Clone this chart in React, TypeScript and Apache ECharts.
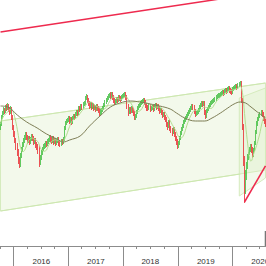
import React, { useEffect, useRef } from "react";
import * as echarts from "echarts";

// first weekly bar starts on this Monday
const startMonday = "2015-09-28";
const yearLabels = ["2016", "2017", "2018", "2019", "2020"];

// weekly candles: [open, close, low, high]
const ohlc: number[][] = [
  [3190,3220,3160,3240],[3220,3290,3200,3310],[3290,3330,3270,3350],[3330,3360,3310,3390],[3360,3350,3320,3380],
  [3350,3390,3330,3410],[3390,3380,3350,3420],[3380,3400,3360,3430],[3400,3370,3340,3420],[3370,3350,3310,3390],
  [3350,3380,3320,3400],[3380,3290,3260,3390],[3290,3190,3160,3310],[3190,3130,3090,3210],[3130,3060,3030,3150],
  [3060,3000,2960,3080],[3000,2940,2900,3030],[2940,2860,2820,2970],[2860,2810,2780,2890],[2810,2910,2790,2930],
  [2910,2960,2880,2990],[2960,3020,2940,3040],[3020,3060,2990,3080],[3060,3090,3030,3110],[3090,3120,3060,3140],
  [3120,3090,3060,3140],[3090,3050,3020,3110],[3050,3080,3030,3100],[3080,3040,3010,3100],[3040,3070,3020,3090],
  [3070,3100,3050,3120],[3100,3080,3050,3120],[3080,3040,3010,3100],[3040,3060,3020,3080],[3060,3010,2980,3080],
  [3010,2990,2960,3040],[2990,2960,2920,3020],[2960,2840,2790,3000],[2840,2880,2810,2910],[2880,2940,2860,2960],
  [2940,2970,2910,2990],[2970,3000,2950,3020],[3000,3000,2970,3030],[3000,3030,2980,3050],[3030,3020,2990,3050],
  [3020,3050,3000,3070],[3050,3060,3020,3080],[3060,3090,3040,3110],[3090,3070,3040,3110],[3070,3050,3020,3090],
  [3050,3080,3030,3100],[3080,3040,3010,3100],[3040,3060,3020,3080],[3060,3030,3000,3080],[3030,3050,3010,3070],
  [3050,3070,3030,3090],[3070,3030,3000,3090],[3030,3020,2990,3050],[3020,3050,3000,3070],[3050,3040,3010,3070],
  [3040,3070,3020,3090],[3070,3180,3050,3200],[3180,3230,3160,3250],[3230,3250,3210,3270],[3250,3260,3230,3280],
  [3260,3280,3240,3300],[3280,3250,3220,3300],[3250,3270,3230,3290],[3270,3240,3210,3290],[3240,3280,3220,3300],
  [3280,3300,3260,3320],[3300,3290,3260,3320],[3290,3320,3270,3340],[3320,3340,3300,3360],[3340,3330,3300,3360],
  [3330,3380,3310,3400],[3380,3370,3340,3400],[3370,3400,3350,3420],[3400,3390,3360,3420],[3390,3420,3370,3440],
  [3420,3430,3400,3450],[3430,3480,3410,3500],[3480,3490,3460,3520],[3490,3460,3430,3510],[3460,3430,3400,3480],
  [3430,3400,3370,3450],[3400,3420,3380,3440],[3420,3390,3360,3440],[3390,3410,3370,3430],[3410,3380,3350,3430],
  [3380,3390,3360,3410],[3390,3370,3340,3410],[3370,3400,3350,3420],[3400,3380,3350,3420],[3380,3360,3330,3400],
  [3360,3330,3300,3380],[3330,3350,3310,3370],[3350,3360,3320,3380],[3360,3380,3340,3400],[3380,3410,3360,3430],
  [3410,3440,3390,3460],[3440,3460,3420,3480],[3460,3480,3440,3500],[3480,3500,3460,3520],[3500,3510,3480,3530],
  [3510,3500,3470,3540],[3500,3520,3480,3540],[3520,3490,3460,3540],[3490,3460,3430,3510],[3460,3440,3410,3480],
  [3440,3450,3420,3470],[3450,3470,3430,3490],[3470,3460,3430,3490],[3460,3490,3440,3510],[3490,3480,3450,3510],
  [3480,3470,3440,3500],[3470,3490,3450,3510],[3490,3500,3470,3520],[3500,3510,3480,3530],[3510,3520,3490,3540],
  [3520,3490,3460,3540],[3490,3400,3370,3510],[3400,3340,3300,3420],[3340,3370,3320,3390],[3370,3350,3320,3390],
  [3350,3380,3330,3400],[3380,3360,3330,3400],[3360,3330,3300,3380],[3330,3290,3260,3350],[3290,3300,3260,3320],
  [3300,3340,3280,3360],[3340,3380,3320,3400],[3380,3400,3360,3420],[3400,3410,3380,3430],[3410,3430,3390,3450],
  [3430,3440,3410,3460],[3440,3450,3420,3470],[3450,3460,3430,3480],[3460,3440,3410,3480],[3440,3410,3380,3460],
  [3410,3390,3350,3430],[3390,3380,3350,3410],[3380,3400,3360,3420],[3400,3370,3340,3420],[3370,3380,3350,3400],
  [3380,3390,3360,3410],[3390,3370,3340,3410],[3370,3400,3350,3420],[3400,3410,3380,3430],[3410,3390,3360,3430],
  [3390,3400,3370,3420],[3400,3380,3350,3420],[3380,3350,3320,3400],[3350,3360,3330,3380],[3360,3340,3310,3380],
  [3340,3310,3280,3360],[3310,3320,3290,3340],[3320,3290,3260,3340],[3290,3270,3240,3310],[3270,3220,3190,3290],
  [3220,3200,3160,3240],[3200,3240,3180,3260],[3240,3180,3150,3260],[3180,3160,3130,3200],[3160,3140,3100,3180],
  [3140,3170,3120,3190],[3170,3120,3090,3190],[3120,3080,3050,3140],[3080,3050,3010,3100],[3050,3000,2970,3070],
  [3000,3030,2980,3050],[3030,3080,3010,3100],[3080,3130,3060,3150],[3130,3170,3110,3190],[3170,3200,3150,3220],
  [3200,3240,3180,3260],[3240,3260,3220,3280],[3260,3280,3240,3300],[3280,3300,3260,3320],[3300,3320,3280,3340],
  [3320,3340,3300,3360],[3340,3360,3320,3380],[3360,3380,3340,3400],[3380,3400,3360,3420],[3400,3390,3360,3420],
  [3390,3350,3320,3410],[3350,3320,3290,3370],[3320,3330,3300,3350],[3330,3340,3310,3360],[3340,3360,3320,3380],
  [3360,3390,3340,3410],[3390,3410,3370,3430],[3410,3430,3390,3450],[3430,3420,3390,3450],[3420,3430,3400,3450],
  [3430,3340,3310,3450],[3340,3300,3270,3360],[3300,3350,3280,3370],[3350,3370,3330,3390],[3370,3390,3350,3410],
  [3390,3410,3370,3430],[3410,3430,3390,3450],[3430,3440,3410,3460],[3440,3450,3420,3470],[3450,3460,3430,3480],
  [3460,3470,3440,3490],[3470,3490,3450,3510],[3490,3500,3470,3520],[3500,3510,3480,3530],[3510,3510,3480,3530],
  [3510,3520,3490,3540],[3520,3530,3500,3550],[3530,3540,3510,3560],[3540,3530,3500,3560],[3530,3550,3510,3570],
  [3550,3560,3530,3580],[3560,3550,3520,3580],[3550,3570,3530,3590],[3570,3580,3550,3600],[3580,3560,3530,3600],
  [3560,3550,3520,3580],[3550,3540,3510,3570],[3540,3570,3520,3590],[3570,3580,3550,3600],[3580,3590,3560,3610],
  [3590,3600,3570,3620],[3600,3590,3560,3620],[3590,3610,3570,3630],[3610,3620,3590,3640],[3620,3630,3600,3650],
  [3630,3460,3430,3650],[3460,3200,3160,3480],[3200,2880,2800,3220],[2880,2600,2430,2900],[2600,2700,2520,2760],
  [2700,2810,2660,2840],[2810,2890,2770,2920],[2890,2940,2860,2960],[2940,2970,2910,2990],[2970,2990,2940,3020],
  [2990,2960,2930,3020],[2960,2910,2880,2990],[2910,2960,2890,2980],[2960,3030,2940,3050],[3030,3140,3010,3160],
  [3140,3230,3120,3250],[3230,3270,3200,3290],[3270,3300,3250,3320],[3300,3320,3280,3340],[3320,3340,3300,3360],
  [3340,3320,3290,3360],[3320,3280,3250,3340],[3280,3250,3220,3300],[3250,3220,3190,3270],
];

// long moving average: [week index, value]
const maLong: number[][] = [
  [0,3400],[7,3390],[16,3310],[25,3240],[35,3180],[44,3120],[54,3070],[60,3040],[66,3060],[76,3100],
  [85,3200],[95,3300],[105,3390],[114,3430],[124,3450],[133,3440],[143,3420],[152,3400],[162,3370],[168,3330],
  [176,3280],[186,3250],[195,3250],[202,3280],[210,3330],[217,3380],[223,3420],[229,3440],[234,3430],[238,3400],
  [244,3350],[253,3280],
];
const fastWindow = 8;

// trend channel and trend lines: [week index, value]
const channelUpper: number[][] = [[0,3250],[253,3630]];
const channelLower: number[][] = [[0,2350],[229,2720]];
const channelBand: number[][] = [[0,3250],[253,3630],[253,2760],[0,2350]];
const crashBand: number[][] = [[228,3480],[253,3580],[253,2680],[228,2500]];
const redTop: number[][] = [[0,4140],[253,4539]];
const redBottom: number[][] = [[233,2440],[253,2800]];
const lastMarker: number[][] = [[253,2000],[253,2150]];

const Y_MIN = 2000;
const Y_MAX = 4460;

function weekDates(): Date[] {
  const base = new Date(startMonday + "T00:00:00Z").getTime();
  return ohlc.map((_, i) => new Date(base + i * 7 * 86400000));
}

function monthStartInWeek(d: Date): number {
  if (d.getUTCDate() === 1) return d.getUTCMonth();
  const e = new Date(d.getTime() + 6 * 86400000);
  if (e.getUTCMonth() !== d.getUTCMonth()) return e.getUTCMonth();
  return -1;
}

export default function App() {
  const ref = useRef<HTMLDivElement>(null);
  useEffect(() => {
    document.body.style.margin = "0";
    if (!ref.current) return;
    const chart = echarts.init(ref.current, null, { renderer: "svg" });
    const dates = weekDates();
    const cats = dates.map((d) => d.toISOString().slice(0, 10));
    const months = dates.map(monthStartInWeek);
    const yearOf = dates.map((d) => {
      const e = new Date(d.getTime() + 6 * 86400000);
      return String(e.getUTCFullYear());
    });
    const isLabel = (i: number) => months[i] === 6 && yearLabels.includes(yearOf[i]);
    const closes = ohlc.map((r) => r[1]);
    const fast: number[][] = [];
    for (let i = 0; i < closes.length; i++) {
      const s = Math.max(0, i - fastWindow + 1);
      let sum = 0;
      for (let k = s; k <= i; k++) sum += closes[k];
      fast.push([i, sum / (i - s + 1)]);
    }
    const bands = [channelBand, crashBand];
    const option: any = {
      animation: false,
      grid: { left: 0, right: 0, top: 0, bottom: 20, containLabel: false, outerBoundsMode: "none" },
      xAxis: [
        {
          type: "category",
          data: cats,
          boundaryGap: true,
          axisLine: { show: true, lineStyle: { color: "#8c8c8c", width: 1 } },
          axisTick: {
            show: true,
            length: 20,
            lineStyle: { color: "#8c8c8c" },
            interval: (i: number) => months[i] === 0,
          },
          axisLabel: {
            show: true,
            interval: (i: number) => isLabel(i),
            formatter: (_v: string, i: number) => (isLabel(i) ? yearOf[i] : ""),
            fontSize: 8,
            fontFamily: "Liberation Sans, Arial, sans-serif",
            color: "#333",
            margin: 11,
            hideOverlap: false,
          },
          splitLine: { show: false },
        },
        {
          type: "category",
          data: cats,
          boundaryGap: true,
          position: "bottom",
          axisLine: { show: false },
          axisTick: {
            show: true,
            length: 3,
            lineStyle: { color: "#8c8c8c" },
            interval: (i: number) => months[i] === 3 || months[i] === 6 || months[i] === 9,
          },
          axisLabel: { show: false },
          splitLine: { show: false },
        },
      ],
      yAxis: {
        type: "value",
        min: Y_MIN,
        max: Y_MAX,
        show: false,
        splitLine: { show: false },
      },
      series: [
        {
          type: "custom",
          xAxisIndex: 0,
          clip: true,
          z: 1,
          data: bands.map((_, k) => [k, Y_MIN]),
          renderItem: (params: any, api: any) => {
            const poly = bands[params.dataIndex];
            const pts = poly.map((p) => api.coord(p));
            return {
              type: "polygon",
              shape: { points: pts },
              style: { fill: "rgba(214,236,190,0.3)", stroke: "#d5ebbd", lineWidth: 1 },
            };
          },
        },
        {
          type: "line",
          data: channelUpper,
          showSymbol: false,
          lineStyle: { color: "#cde7b0", width: 1 },
          z: 2,
          silent: true,
        },
        {
          type: "line",
          data: channelLower,
          showSymbol: false,
          lineStyle: { color: "#cde7b0", width: 1 },
          z: 2,
          silent: true,
        },
        {
          type: "candlestick",
          data: ohlc.map((r) => [r[0], r[1], r[2], r[3]]),
          barWidth: 1,
          z: 3,
          itemStyle: {
            color: "#3cbc3c",
            color0: "#e8282e",
            borderColor: "#3cbc3c",
            borderColor0: "#e8282e",
            borderWidth: 0.8,
          },
        },
        {
          type: "line",
          data: fast,
          showSymbol: false,
          smooth: 0.3,
          lineStyle: { color: "#b4dc90", width: 1 },
          z: 4,
          silent: true,
        },
        {
          type: "line",
          data: maLong,
          showSymbol: false,
          smooth: 0.4,
          lineStyle: { color: "#7d7d55", width: 1 },
          z: 5,
          silent: true,
        },
        {
          type: "line",
          data: redTop,
          showSymbol: false,
          lineStyle: { color: "#ee2a4e", width: 1.5 },
          z: 6,
          silent: true,
        },
        {
          type: "line",
          data: redBottom,
          showSymbol: false,
          lineStyle: { color: "#ee2a4e", width: 1.5 },
          z: 6,
          silent: true,
        },
        {
          type: "line",
          data: lastMarker,
          showSymbol: false,
          lineStyle: { color: "#777", width: 1.5 },
          z: 6,
          silent: true,
        },
      ],
    };
    chart.setOption(option);
    return () => chart.dispose();
  }, []);
  return <div ref={ref} style={{ width: 266, height: 266 }} />;
}
